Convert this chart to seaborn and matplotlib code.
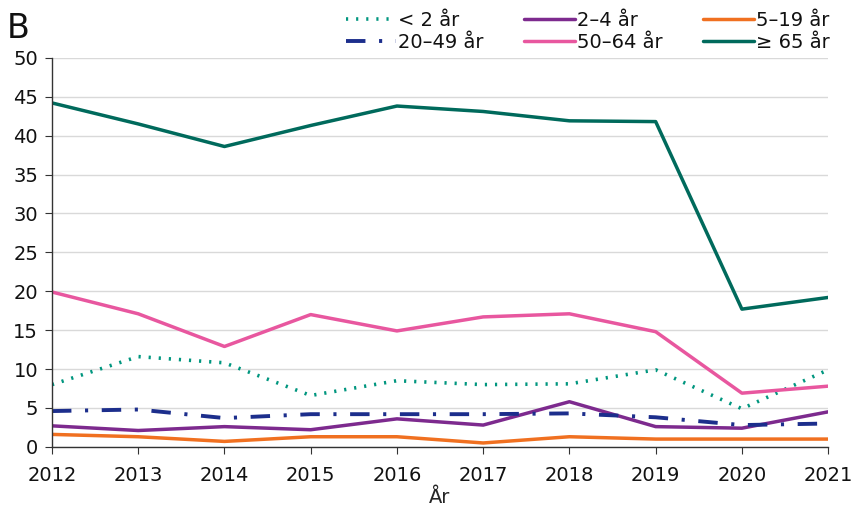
import matplotlib
matplotlib.use("Agg")
import matplotlib.pyplot as plt
import seaborn as sns
import pandas as pd

years = [2012, 2013, 2014, 2015, 2016, 2017, 2018, 2019, 2020, 2021]
under_2 = [8.0, 11.6, 10.8, 6.6, 8.5, 8.0, 8.1, 9.9, 4.9, 9.9]
age_2_4 = [2.7, 2.1, 2.6, 2.2, 3.6, 2.8, 5.8, 2.6, 2.4, 4.5]
age_5_19 = [1.6, 1.3, 0.7, 1.3, 1.3, 0.5, 1.3, 1.0, 1.0, 1.0]
age_20_49 = [4.6, 4.8, 3.7, 4.2, 4.2, 4.2, 4.3, 3.8, 2.8, 3.0]
age_50_64 = [19.9, 17.1, 12.9, 17.0, 14.9, 16.7, 17.1, 14.8, 6.9, 7.8]
over_65 = [44.2, 41.5, 38.6, 41.3, 43.8, 43.1, 41.9, 41.8, 17.7, 19.2]

labels = ["< 2 år", "2\u20134 år", "5\u201319 år", "20\u201349 år", "50\u201364 år", "\u2265 65 år"]
values = [under_2, age_2_4, age_5_19, age_20_49, age_50_64, over_65]

df = pd.DataFrame({"År": years * len(labels),
                   "Värde": sum(values, []),
                   "Grupp": [l for l in labels for _ in years]})

colors = ["#00967f", "#7d2a8e", "#f07020", "#1c2e8c", "#e8579f", "#006a5c"]
styles = [(0, (0.6, 2.2)), "-", "-", (0, (5, 3.5, 0.8, 3.5)), "-", "-"]
widths = [2.6, 2.5, 2.5, 2.8, 2.5, 2.5]

sns.set_style("white")
plt.rcParams["font.family"] = ["DejaVu Sans Condensed", "Liberation Sans Narrow", "DejaVu Sans"]
plt.rcParams["text.color"] = "#111111"

fig = plt.figure(figsize=(8.52, 5.16), dpi=100)
ax = fig.add_axes([0.061, 0.134, 0.911, 0.754])

handles = {}
for lab, col, ls, lw in zip(labels, colors, styles, widths):
    sns.lineplot(data=df[df["Grupp"] == lab], x="År", y="Värde", ax=ax,
                 color=col, linewidth=lw, linestyle=ls, label=lab)
    handles[lab] = ax.lines[-1]

ax.set_xlim(2012, 2021)
ax.set_ylim(0, 50)
ax.set_xticks(years)
ax.set_yticks(range(0, 51, 5))
ax.tick_params(axis="both", labelsize=14, length=5, color="#333333",
               labelcolor="#111111", direction="out", bottom=True, left=True, pad=5)
ax.tick_params(axis="x", pad=9)
ax.yaxis.grid(True, color="#d9d9d9", linewidth=1)
ax.set_axisbelow(True)
for s in ["top", "right"]:
    ax.spines[s].set_visible(False)
for s in ["left", "bottom"]:
    ax.spines[s].set_color("#333333")
    ax.spines[s].set_linewidth(1)
ax.set_xlabel("År", fontsize=14, labelpad=2)
ax.set_ylabel("")

order = [labels[0], labels[3], labels[1], labels[4], labels[2], labels[5]]
ax.legend([handles[l] for l in order], order, ncol=3, frameon=False,
          fontsize=14, loc="lower right", bbox_to_anchor=(1.012, 0.995),
          handlelength=2.6, handletextpad=0.1, columnspacing=2.1,
          labelspacing=0.15, borderaxespad=0)

fig.text(0.008, 0.945, "B", fontsize=24, ha="left", va="center")

fig.savefig("out.png", dpi=100)
